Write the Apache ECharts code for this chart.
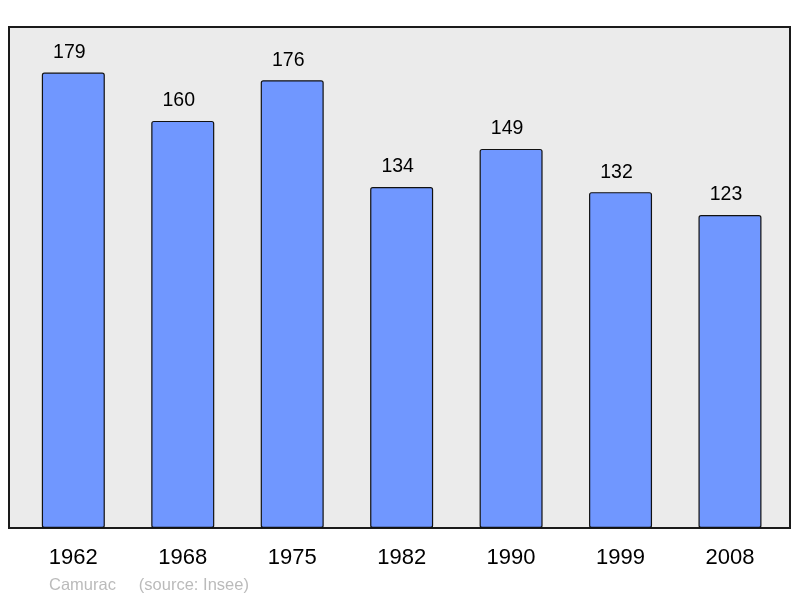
<!DOCTYPE html>
<html>
<head>
<meta charset="utf-8">
<script src="https://cdn.jsdelivr.net/npm/echarts@6/dist/echarts.min.js"></script>
<style>
  html, body { margin: 0; padding: 0; background: #fff; }
  #chart { width: 800px; height: 598px; }
</style>
</head>
<body>
<div id="chart"></div>
<script>
const years = ['1962', '1968', '1975', '1982', '1990', '1999', '2008']
const population = [179, 160, 176, 134, 149, 132, 123]

const chart = echarts.init(document.getElementById('chart'))

const option = {
  animation: false,
  textStyle: { fontFamily: 'Liberation Sans, Arial, sans-serif' },
  title: {
    text: 'Camurac     (source: Insee)',
    left: 44,
    top: 572,
    textStyle: { color: '#bbbbbb', fontSize: 16.5, fontWeight: 'normal' }
  },
  grid: [
    // frame only
    {
      left: 9, right: 10, top: 27, bottom: 70,
      show: true,
      backgroundColor: '#ebebeb',
      borderColor: '#1a1a1a',
      borderWidth: 2
    },
    // bars
    { left: 18.6, right: 15.3, top: 27, bottom: 70 }
  ],
  xAxis: [
    { gridIndex: 0, type: 'category', show: false, data: [] },
    {
      gridIndex: 1,
      type: 'category',
      data: years,
      axisLine: { show: false },
      axisTick: { show: false },
      axisLabel: { color: '#000', fontSize: 22, margin: 19 }
    }
  ],
  yAxis: [
    { gridIndex: 0, type: 'value', show: false },
    {
      gridIndex: 1,
      type: 'value',
      min: 0,
      max: 196.9,
      show: false,
      splitLine: { show: false }
    }
  ],
  series: [
    {
      type: 'bar',
      xAxisIndex: 1,
      yAxisIndex: 1,
      data: population,
      barWidth: 63,
      itemStyle: {
        color: '#7097ff',
        borderColor: '#111',
        borderWidth: 1.2,
        borderRadius: 2
      },
      label: {
        show: true,
        position: 'top',
        distance: 10,
        offset: [-4, 0],
        color: '#000',
        fontSize: 19.5
      }
    }
  ]
}

chart.setOption(option)
</script>
</body>
</html>
